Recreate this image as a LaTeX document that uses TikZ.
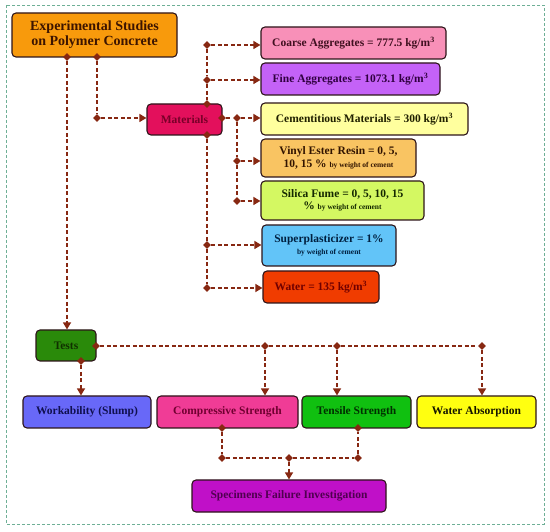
\documentclass[tikz,border=0pt]{standalone}
\usepackage{fontspec}
\setmainfont{Liberation Serif}
\usetikzlibrary{shapes.geometric,arrows.meta}

\definecolor{lnkred}{RGB}{135,40,18}
\definecolor{framegr}{RGB}{110,175,150}
\definecolor{boxedge}{RGB}{45,20,25}

\tikzset{every picture/.style={line width=0.75pt}}
\tikzset{
  box/.style={draw=boxedge,line width=1.1pt,rounded corners=4pt,inner sep=2pt,align=center,font=\bfseries\fontsize{11.5}{12.5}\selectfont},
  jct/.style={diamond,fill=lnkred,draw=none,inner sep=0pt,minimum size=8pt},
  lnk/.style={draw=lnkred,line width=1.3pt,dash pattern=on 4pt off 2.5pt},
  arr/.style={lnk,-{Triangle[width=8pt,length=7pt]}},
}
\newcommand{\byw}{{\fontsize{7.5}{8.5}\selectfont by weight of cement}}

\begin{document}
\begin{tikzpicture}[x=1pt,y=1pt,yscale=-1]
\useasboundingbox (0,0) rectangle (550,532);

%Frame [id:outer]
\draw [framegr,line width=0.9pt,dash pattern=on 3pt off 2pt] (6,5) rectangle (544,524);

% Text Node
\node [box,fill={rgb,255:red,248;green,154;blue,12},text={rgb,255:red,60;green,20;blue,0},minimum width=165pt,minimum height=44pt,font=\bfseries\fontsize{14}{15}\selectfont] (exp) at (94.5,35) {Experimental Studies\\on Polymer Concrete};
% Text Node
\node [box,fill={rgb,255:red,227;green,16;blue,92},text={rgb,255:red,120;green,0;blue,40},minimum width=75pt,minimum height=31pt] (mat) at (184.5,119.5) {Materials};
% Text Node
\node [box,fill={rgb,255:red,248;green,144;blue,184},text={rgb,255:red,64;green,16;blue,32},minimum width=185pt,minimum height=32pt] (coarse) at (353.5,43) {Coarse Aggregates = 777.5 kg/m$^{\mathbf{3}}$};
% Text Node
\node [box,fill={rgb,255:red,196;green,98;blue,247},text={rgb,255:red,48;green,0;blue,64},minimum width=179pt,minimum height=32pt] (fine) at (350.5,79) {Fine Aggregates = 1073.1 kg/m$^{\mathbf{3}}$};
% Text Node
\node [box,fill={rgb,255:red,255;green,255;blue,158},text={rgb,255:red,32;green,32;blue,0},minimum width=207pt,minimum height=32pt] (cem) at (364.5,119) {Cementitious Materials = 300 kg/m$^{\mathbf{3}}$};
% Text Node
\node [box,fill={rgb,255:red,249;green,196;blue,98},text={rgb,255:red,50;green,20;blue,0},minimum width=155pt,minimum height=38pt] (vinyl) at (338.5,158) {Vinyl Ester Resin = 0, 5,\\10, 15 \% \byw};
% Text Node
\node [box,fill={rgb,255:red,212;green,248;blue,98},text={rgb,255:red,20;green,40;blue,0},minimum width=163pt,minimum height=39pt] (silica) at (342.5,200.5) {Silica Fume = 0, 5, 10, 15\\\% \byw};
% Text Node
\node [box,fill={rgb,255:red,98;green,196;blue,248},text={rgb,255:red,0;green,32;blue,64},minimum width=134pt,minimum height=41pt] (super) at (329,245.5) {Superplasticizer = 1\%\\\byw};
% Text Node
\node [box,fill={rgb,255:red,240;green,60;blue,0},text={rgb,255:red,112;green,0;blue,0},minimum width=116pt,minimum height=32pt] (water) at (321,287) {Water = 135 kg/m$^{\mathbf{3}}$};
% Text Node
\node [box,fill={rgb,255:red,42;green,138;blue,10},text={rgb,255:red,16;green,48;blue,0},minimum width=60pt,minimum height=31pt] (tests) at (66,345.5) {Tests};
% Text Node
\node [box,fill={rgb,255:red,104;green,104;blue,248},text={rgb,255:red,16;green,16;blue,80},minimum width=128pt,minimum height=32pt] (work) at (87,412) {Workability (Slump)};
% Text Node
\node [box,fill={rgb,255:red,240;green,60;blue,150},text={rgb,255:red,112;green,0;blue,48},minimum width=141pt,minimum height=32pt] (comp) at (227.5,412) {Compressive Strength};
% Text Node
\node [box,fill={rgb,255:red,16;green,192;blue,16},text={rgb,255:red,0;green,48;blue,0},minimum width=109pt,minimum height=32pt] (tens) at (356.5,412) {Tensile Strength};
% Text Node
\node [box,fill={rgb,255:red,255;green,255;blue,16},text={rgb,255:red,20;green,20;blue,0},minimum width=119pt,minimum height=32pt] (wabs) at (476.5,412) {Water Absorption};
% Text Node
\node [box,fill={rgb,255:red,192;green,16;blue,200},text={rgb,255:red,80;green,0;blue,80},minimum width=194pt,minimum height=32pt] (spec) at (289,496) {Specimens Failure Investigation};

%Junctions
\node [jct] (jeA) at (67,57) {};
\node [jct] (jeB) at (97,57) {};
\node [jct] (jeC) at (97,118) {};
\node [jct] (jmCo) at (207,45) {};
\node [jct] (jmFi) at (207,80) {};
\node [jct] (jmTop) at (207,104) {};
\node [jct] (jmBot) at (207,135) {};
\node [jct] (jmSu) at (207,245) {};
\node [jct] (jmWa) at (207,288) {};
\node [jct] (jmR) at (222,118) {};
\node [jct] (jmS) at (237,118) {};
\node [jct] (jmVi) at (237,161) {};
\node [jct] (jmSi) at (237,201) {};
\node [jct] (jtR) at (96,346) {};
\node [jct] (jtB) at (81,361) {};
\node [jct] (jtCo) at (265,346) {};
\node [jct] (jtTe) at (337,346) {};
\node [jct] (jtWa) at (482,346) {};
\node [jct] (jcB) at (222,428) {};
\node [jct] (jcL) at (222,458) {};
\node [jct] (jcM) at (289,458) {};
\node [jct] (jcR) at (358,458) {};
\node [jct] (jsB) at (358,428) {};

%Straight Lines from study
\draw [arr] (jeA) -- (jeA |- tests.north);
\draw [lnk] (jeB) -- (jeC);
\draw [arr] (jeC) -- (mat.west |- jeC);
%Straight Lines of materials
\draw [lnk] (jmCo) -- (jmFi) -- (jmTop);
\draw [lnk] (jmBot) -- (jmSu) -- (jmWa);
\draw [arr] (jmCo) -- (coarse.west |- jmCo);
\draw [arr] (jmFi) -- (fine.west |- jmFi);
\draw [arr] (jmSu) -- (super.west |- jmSu);
\draw [arr] (jmWa) -- (water.west |- jmWa);
\draw [lnk] (jmR) -- (jmS);
\draw [arr] (jmS) -- (cem.west |- jmS);
\draw [lnk] (jmS) -- (jmVi) -- (jmSi);
\draw [arr] (jmVi) -- (vinyl.west |- jmVi);
\draw [arr] (jmSi) -- (silica.west |- jmSi);
%Straight Lines of tests
\draw [lnk] (jtR) -- (jtCo) -- (jtTe) -- (jtWa);
\draw [arr] (jtB) -- (jtB |- work.north);
\draw [arr] (jtCo) -- (jtCo |- comp.north);
\draw [arr] (jtTe) -- (jtTe |- tens.north);
\draw [arr] (jtWa) -- (jtWa |- wabs.north);
%Straight Lines to failure
\draw [lnk] (jcB) -- (jcL) -- (jcM) -- (jcR) -- (jsB);
\draw [arr] (jcM) -- (jcM |- spec.north);

\end{tikzpicture}
\end{document}
